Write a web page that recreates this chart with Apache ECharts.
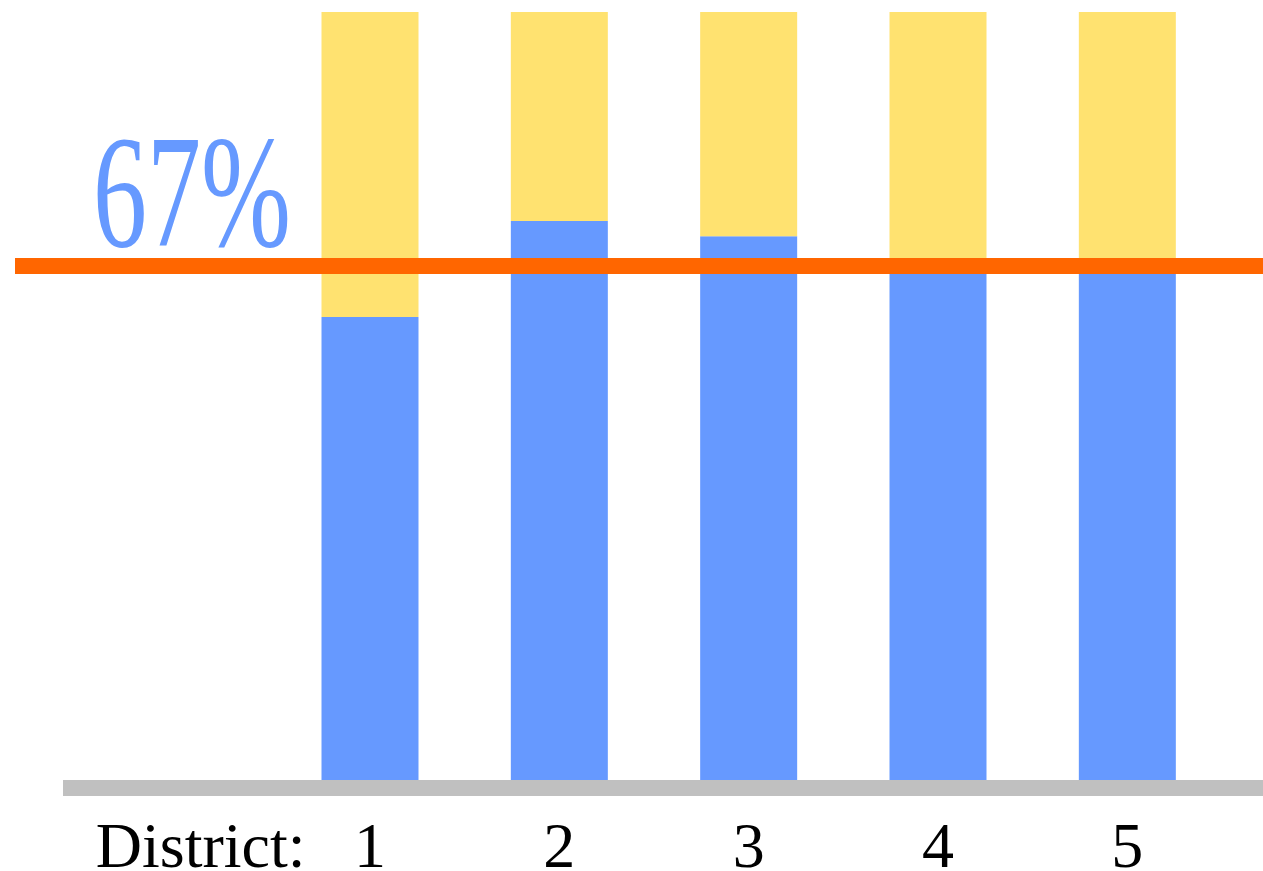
<!DOCTYPE html>
<html>
<head>
<meta charset="utf-8">
<style>
  html, body { margin: 0; padding: 0; background: #fff; }
  #chart { width: 1263px; height: 871px; }
</style>
<script src="https://cdn.jsdelivr.net/npm/echarts@6/dist/echarts.min.js"></script>
</head>
<body>
<div id="chart"></div>
<script>
// Share per district: blue part and the yellow remainder, in percent
const axisTitle = 'District:';
const districts = ['1', '2', '3', '4', '5'];
const supportShare = [60.3, 72.8, 70.8, 67, 67];
const remainderShare = [39.7, 27.2, 29.2, 33, 33];
const threshold = 67;

const BLUE = '#6699ff';
const YELLOW = '#ffe270';
const ORANGE = '#ff6600';
const GREY = '#c0c0c0';
const SERIF = '"Liberation Serif", "Times New Roman", serif';

const chart = echarts.init(document.getElementById('chart'), null, { renderer: 'canvas' });

// first category slot carries the axis title, it has no bar
const categories = [axisTitle].concat(districts);
const blueData = ['-'].concat(supportShare);
const yellowData = ['-'].concat(remainderShare);

const option = {
  animation: false,
  backgroundColor: '#fff',
  grid: [
    { left: 86, right: 41, top: 12, bottom: 91, outerBoundsMode: 'none' },   // bars
    { left: 15, right: 0, top: 12, bottom: 91, outerBoundsMode: 'none' },    // threshold line
    { left: 63, right: 0, top: 12, bottom: 91, outerBoundsMode: 'none' }     // base line
  ],
  xAxis: [
    {
      gridIndex: 0, type: 'category', data: categories,
      axisLine: { show: false }, axisTick: { show: false },
      axisLabel: {
        interval: 0, hideOverlap: false,
        margin: 38, fontSize: 64, fontFamily: SERIF, color: '#000',
        formatter: (v, i) => i === 0 ? '{t|' + v + '}' : v,
        rich: { t: { fontSize: 64, fontFamily: SERIF, color: '#000', padding: [0, 0, 0, 40] } }
      }
    },
    { gridIndex: 1, type: 'value', min: 0, max: 1, show: false },
    {
      gridIndex: 2, type: 'value', min: 0, max: 1, offset: 8,
      axisLine: { show: true, onZero: false, lineStyle: { color: GREY, width: 16, cap: 'butt' } },
      axisTick: { show: false }, axisLabel: { show: false }, splitLine: { show: false }
    }
  ],
  yAxis: [
    { gridIndex: 0, type: 'value', min: 0, max: 100, show: false },
    { gridIndex: 1, type: 'value', min: 0, max: 100, show: false },
    { gridIndex: 2, type: 'value', min: 0, max: 100, show: false }
  ],
  series: [
    {
      type: 'bar', name: 'blue', xAxisIndex: 0, yAxisIndex: 0, stack: 'share',
      barWidth: 97, data: blueData, itemStyle: { color: BLUE }, z: 2
    },
    {
      type: 'bar', name: 'yellow', xAxisIndex: 0, yAxisIndex: 0, stack: 'share',
      barWidth: 97, data: yellowData, itemStyle: { color: YELLOW }, z: 2
    },
    {
      type: 'line', name: 'threshold', xAxisIndex: 1, yAxisIndex: 1, data: [], z: 5,
      markLine: {
        silent: true, symbol: 'none', label: { show: false },
        lineStyle: { color: ORANGE, width: 16, type: 'solid', cap: 'butt' },
        data: [{ yAxis: threshold }]
      }
    }
  ]
};

chart.setOption(option);

// threshold caption, placed right above the orange line
const lineY = chart.convertToPixel({ yAxisIndex: 1 }, threshold);
chart.setOption({
  graphic: [{
    type: 'text',
    x: 93,
    y: lineY - 61,
    scaleX: 0.675,
    z: 10,
    style: {
      text: threshold + '%',
      font: '160px ' + SERIF,
      fill: BLUE,
      align: 'left',
      verticalAlign: 'middle'
    }
  }]
});
</script>
</body>
</html>
